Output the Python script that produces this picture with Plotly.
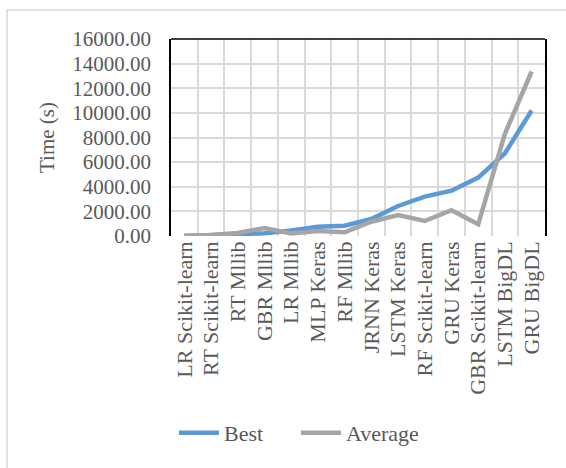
import plotly.graph_objects as go

categories = ["LR Scikit-learn", "RT Scikit-learn", "RT Mllib", "GBR Mllib", "LR Mllib",
              "MLP Keras", "RF Mllib", "JRNN Keras", "LSTM Keras", "RF Scikit-learn",
              "GRU Keras", "GBR Scikit-learn", "LSTM BigDL", "GRU BigDL"]
best = [10, 50, 120, 220, 450, 760, 830, 1380, 2440, 3200, 3680, 4740, 6720, 10190]
average = [30, 80, 250, 650, 200, 400, 300, 1160, 1700, 1220, 2090, 950, 8300, 13360]
y_ticks = [0, 2000, 4000, 6000, 8000, 10000, 12000, 14000, 16000]

W, H = 566, 468
L, R, T, B = 171, 21, 39, 232
pw = W - L - R
ph = H - T - B

def px_x(x):
    return (x - L) / pw

def px_y(y):
    return (H - B - y) / ph

font = "Liberation Serif, Times New Roman, serif"
fig = go.Figure()
fig.add_trace(go.Scatter(x=categories, y=best, name="Best", mode="lines",
                         line=dict(color="#5B9BD5", width=4.5)))
fig.add_trace(go.Scatter(x=categories, y=average, name="Average", mode="lines",
                         line=dict(color="#A5A5A5", width=4.5)))

fig.update_layout(
    template="none",
    width=W, height=H,
    margin=dict(l=L, r=R, t=T, b=B),
    paper_bgcolor="white", plot_bgcolor="white",
    font=dict(family=font, size=21, color="#595959"),
    showlegend=True,
    legend=dict(orientation="h", x=px_x(174), xanchor="left", y=px_y(433), yanchor="middle",
                font=dict(size=22, color="#595959"), tracegroupgap=0,
                entrywidth=67, entrywidthmode="pixels", itemwidth=40),
    xaxis=dict(type="category", range=[-0.5, 13.5], tickson="boundaries",
               showgrid=True, gridcolor="#D9D9D9", gridwidth=2,
               tickangle=-90, ticks="", showline=False, zeroline=False,
               tickfont=dict(size=22, color="#595959")),
    yaxis=dict(range=[0, 16000], tickvals=y_ticks, tickformat=".2f",
               showgrid=True, gridcolor="#D9D9D9", gridwidth=2,
               showline=True, linecolor="black", linewidth=1.5, mirror=True,
               zeroline=False, ticks="outside", ticklen=14, tickcolor="rgba(0,0,0,0)",
               title=dict(text="Time (s)", font=dict(size=21, color="#595959"), standoff=12),
               tickfont=dict(size=21, color="#595959")),
    shapes=[
        dict(type="line", xref="paper", yref="paper", x0=0, x1=1, y0=1, y1=1,
             line=dict(color="black", width=1.5)),
        dict(type="rect", xref="paper", yref="paper",
             x0=px_x(7), x1=px_x(590), y0=px_y(490), y1=px_y(10),
             fillcolor="rgba(0,0,0,0)",
             line=dict(color="#D9D9D9", width=1.5)),
    ],
)

fig.write_html("out.html")
